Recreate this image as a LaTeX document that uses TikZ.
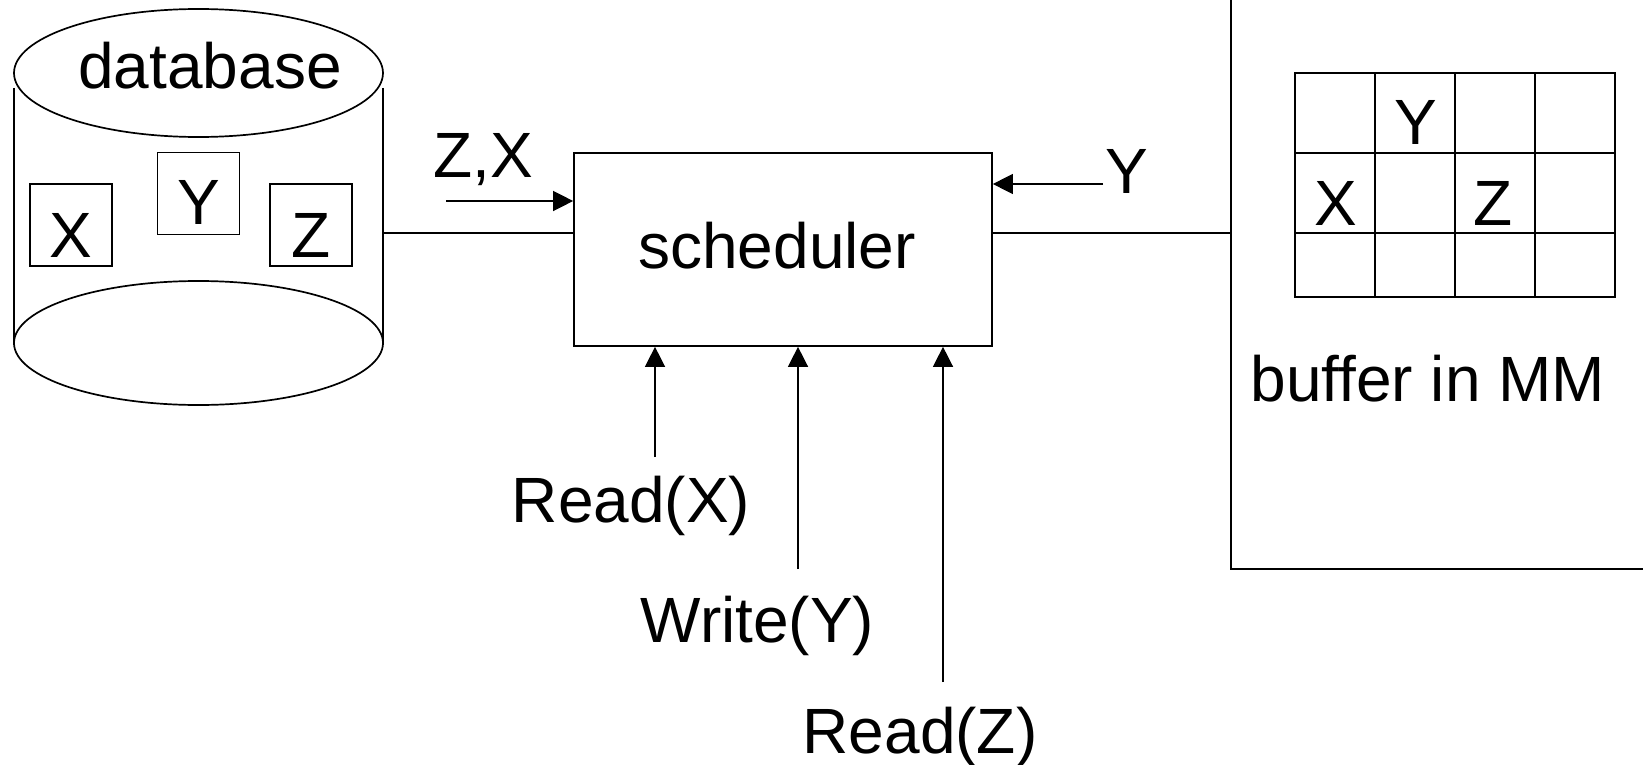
\documentclass[tikz,border=0pt]{standalone}
\usepackage{fontspec}
\setmainfont{Liberation Sans}
\usetikzlibrary{arrows.meta}
\begin{document}
\begin{tikzpicture}[x=0.5pt,y=-0.5pt,
  shape line/.style={line width=0.85pt},
  conn/.style={line width=0.7pt},
  arr/.style={line width=0.7pt,-{Triangle[length=10pt,width=10pt]}},
  txt/.style={font=\fontsize{32pt}{38pt}\selectfont,inner sep=0pt,anchor=base},
  cell/.style={draw,line width=0.85pt,minimum width=41pt,minimum height=41pt,inner sep=0pt},
  schbox/.style={draw,line width=0.85pt,minimum width=209pt,minimum height=96.5pt,inner sep=0pt}]
\useasboundingbox (0,0) rectangle (1643,765);
% cylinder (database)
\draw[shape line] (198.5,73) ellipse [x radius=92.25pt,y radius=32pt];
\draw[shape line] (198.5,343) ellipse [x radius=92.25pt,y radius=31pt];
\draw[shape line] (14,88) -- (14,345);
\draw[shape line] (383,88) -- (383,345);
\node[txt] (dbtxt) at (210,89) {database};
\node[cell] (dbX) at (71,225) {};
\node[txt] at (71,257) {X};
\node[cell] (dbY) at (198.5,193.5) {};
\node[txt] at (198.5,224) {Y};
\node[cell] (dbZ) at (311,225) {};
\node[txt] at (311,257) {Z};
\coordinate (dbR) at (383,233);
% scheduler
\node[schbox] (sch) at (783,249.5) {};
\node[txt] (schtxt) at (777,268) {scheduler};
% buffer frame
\coordinate (bufTop) at (1231,0);
\coordinate (bufL) at (1231,233);
\coordinate (bufCorner) at (1231,569);
\coordinate (bufRight) at (1643,569);
\draw[shape line] (bufTop) -- (bufCorner) -- (bufRight);
% grid
\draw[shape line] (1295,73) rectangle (1615,297);
\foreach \gx in {1375,1455,1535} \draw[shape line] (\gx,73) -- (\gx,297);
\foreach \gy in {153,233} \draw[shape line] (1295,\gy) -- (1615,\gy);
\node[txt] (bY) at (1415.5,144) {Y};
\node[txt] (bX) at (1335.5,225) {X};
\node[txt] (bZ) at (1493.5,225) {Z};
\node[txt] (buftxt) at (1428,401) {buffer in MM};
% connectors
\draw[conn] (dbR) -- (sch.west |- dbR);
\draw[conn] (sch.east |- bufL) -- (bufL);
\node[txt] (zx) at (483,177) {Z,X};
\coordinate (zxs) at (446,201);
\draw[arr] (zxs) -- (sch.west |- zxs);
\node[txt] (ylab) at (1127,193) {Y};
\coordinate (ys) at (1103,184);
\draw[arr] (ys) -- (sch.east |- ys);
% requests
\node[txt] (rx) at (631,522) {Read(X)};
\node[txt] (wy) at (757.5,642) {Write(Y)};
\node[txt] (rz) at (920,753) {Read(Z)};
\coordinate (rxs) at (655,457);
\coordinate (wys) at (798,569);
\coordinate (rzs) at (943,682);
\draw[arr] (rxs) -- (sch.south -| rxs);
\draw[arr] (wys) -- (sch.south -| wys);
\draw[arr] (rzs) -- (sch.south -| rzs);
\end{tikzpicture}
\end{document}
